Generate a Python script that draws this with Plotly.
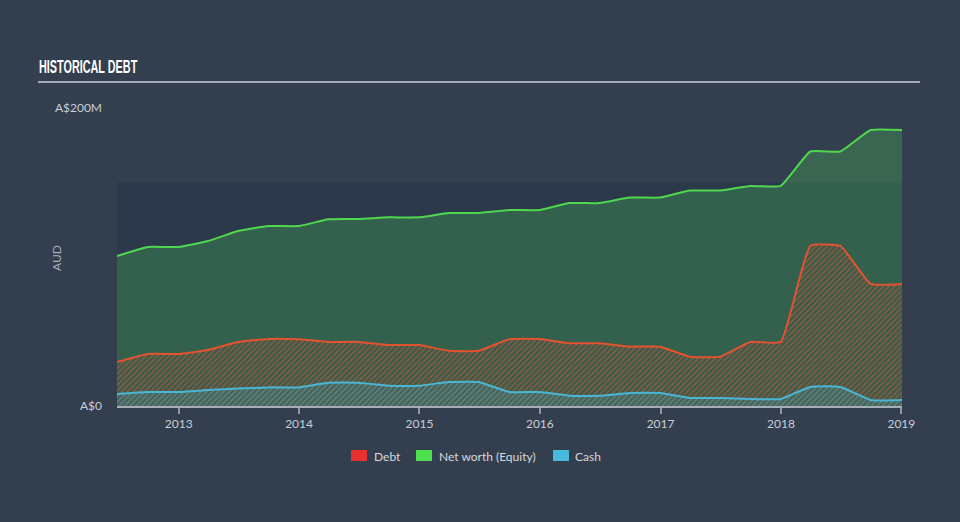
import plotly.graph_objects as go

# Observation dates (quarterly)
dates = [
    "2012-06-28", "2012-09-30", "2012-12-31", "2013-03-31", "2013-06-30",
    "2013-09-30", "2013-12-31", "2014-03-31", "2014-06-30", "2014-09-30",
    "2014-12-31", "2015-03-31", "2015-06-30", "2015-09-30", "2015-12-31",
    "2016-03-31", "2016-06-30", "2016-09-30", "2016-12-31", "2017-03-31",
    "2017-06-30", "2017-09-30", "2017-12-31", "2018-03-31", "2018-06-30",
    "2018-09-30", "2019-01-03",
]

# Values in A$ millions
equity = [100.7, 106.7, 106.7, 110.7, 117.4, 120.8, 120.8, 125.3, 125.5, 126.6,
          126.6, 129.5, 129.5, 131.5, 131.5, 136.2, 136.2, 139.9, 139.9, 144.6,
          144.6, 147.7, 147.7, 170.8, 170.8, 185.2, 185.2]
debt = [29.5, 34.9, 34.9, 37.6, 43.0, 45.0, 44.8, 43.0, 43.0, 40.9,
        40.9, 37.1, 37.1, 44.8, 45.0, 42.1, 42.1, 39.8, 39.8, 33.1,
        33.1, 43.0, 43.0, 107.4, 107.4, 81.9, 81.9]
cash = [8.1, 9.4, 9.4, 10.7, 11.7, 12.5, 12.5, 15.6, 15.6, 13.6,
        13.6, 16.1, 16.1, 9.4, 9.4, 6.9, 6.9, 8.7, 8.7, 5.4,
        5.4, 4.7, 4.7, 12.8, 12.8, 4.0, 4.0]

year_ticks = ["2013-01-01", "2014-01-01", "2015-01-01", "2016-01-01",
              "2017-01-01", "2018-01-01", "2019-01-01"]
year_labels = ["2013", "2014", "2015", "2016", "2017", "2018", "2019"]

y_ticks = [0, 200]
y_labels = ["A$0", "A$200M"]
band_top = 150

legend_names = ["Debt", "Net worth (Equity)", "Cash"]
legend_colors = ["#e8302e", "#4ee04e", "#48b8dc"]

BG = "#333f4f"
BAND = "#2c394a"
GREEN = "#4fd84f"
RED = "#e5522f"
BLUE = "#4ab6d6"
TXT = "#c9ced5"
FONT = "Lato, 'Open Sans', sans-serif"

# pixel -> paper helpers (plot area: x 117..902, y 406..108)
def px(x):
    return (x - 117) / 785

def py(y):
    return (406 - y) / 298

fig = go.Figure()

fig.add_trace(go.Scatter(
    x=dates, y=equity, mode="lines", name="Net worth (Equity)",
    line=dict(color=GREEN, width=2, shape="spline", smoothing=0.4),
    fill="tozeroy", fillcolor="rgba(70,172,86,0.35)", showlegend=False,
    hoverinfo="skip"))

fig.add_trace(go.Scatter(
    x=dates, y=debt, mode="lines", name="Debt",
    line=dict(color=RED, width=2, shape="spline", smoothing=0.4),
    fill="tozeroy",
    fillpattern=dict(shape="/", fgcolor="rgba(226,100,58,0.8)",
                     bgcolor="rgba(70,74,62,0.35)", size=4, solidity=0.45),
    showlegend=False, hoverinfo="skip"))

fig.add_trace(go.Scatter(
    x=dates, y=cash, mode="lines", name="Cash",
    line=dict(color=BLUE, width=2, shape="spline", smoothing=0.4),
    fill="tozeroy",
    fillpattern=dict(shape="/", fgcolor="rgba(84,158,168,0.85)",
                     bgcolor="rgba(72,112,112,0.45)", size=4, solidity=0.45),
    showlegend=False, hoverinfo="skip"))

fig.add_shape(type="rect", xref="paper", yref="y", x0=0, x1=1, y0=0, y1=band_top,
              fillcolor=BAND, line=dict(width=0), layer="below")

# title underline
fig.add_shape(type="line", xref="paper", yref="paper",
              x0=px(38), x1=px(920), y0=py(82), y1=py(82),
              line=dict(color="#a3abb4", width=2))

fig.add_annotation(text="<b>HISTORICAL DEBT</b>", xref="paper", yref="paper",
                   x=px(37), y=py(67), xanchor="left", yanchor="middle",
                   showarrow=False,
                   font=dict(family="'Liberation Sans', 'DejaVu Sans', sans-serif",
                             size=19, color="#ffffff"))

fig.add_annotation(text="AUD", xref="paper", yref="paper",
                   x=px(56), y=py(258), xanchor="center", yanchor="middle",
                   textangle=-90, showarrow=False,
                   font=dict(family=FONT, size=12, color="#a8b0ba"))

# manual legend
sq_left = [351, 416, 553]
txt_left = [372, 437, 573]
for nm, col, sx, tx in zip(legend_names, legend_colors, sq_left, txt_left):
    fig.add_shape(type="rect", xref="paper", yref="paper",
                  x0=px(sx), x1=px(sx + 16), y0=py(461), y1=py(450),
                  fillcolor=col, line=dict(width=0))
    fig.add_annotation(text=nm, xref="paper", yref="paper",
                       x=px(tx), y=py(456), xanchor="left", yanchor="middle",
                       showarrow=False,
                       font=dict(family=FONT, size=12, color="#d5d9de"))

fig.update_layout(
    width=960, height=522,
    paper_bgcolor=BG, plot_bgcolor=BG,
    margin=dict(l=117, r=58, t=108, b=116),
    font=dict(family=FONT, color=TXT, size=12),
    showlegend=False,
    xaxis=dict(type="date", range=[dates[0], dates[-1]],
               tickvals=year_ticks, ticktext=year_labels,
               showgrid=False, zeroline=False,
               showline=True, linecolor="#a6aeb8", linewidth=1.5,
               ticks="outside", ticklen=6, tickcolor="#8d97a2", tickwidth=1.5,
               tickfont=dict(family=FONT, size=12, color=TXT)),
    yaxis=dict(range=[0, 200], tickvals=y_ticks, ticktext=y_labels,
               showgrid=False, zeroline=False, showline=False,
               ticks="", ticklabelstandoff=14,
               tickfont=dict(family=FONT, size=12, color=TXT)),
)

post = """
var s = 0.57;
document.querySelectorAll('text.annotation-text').forEach(function(t){
  if (t.textContent === 'HISTORICAL DEBT') {
    var b = t.getBBox();
    var x0 = b.x;
    var old = t.getAttribute('transform') || '';
    t.setAttribute('transform', old + ' translate(' + (x0*(1-s)) + ',0) scale(' + s + ',1)');
  }
});
"""

fig.write_html("out.html", post_script=post)
